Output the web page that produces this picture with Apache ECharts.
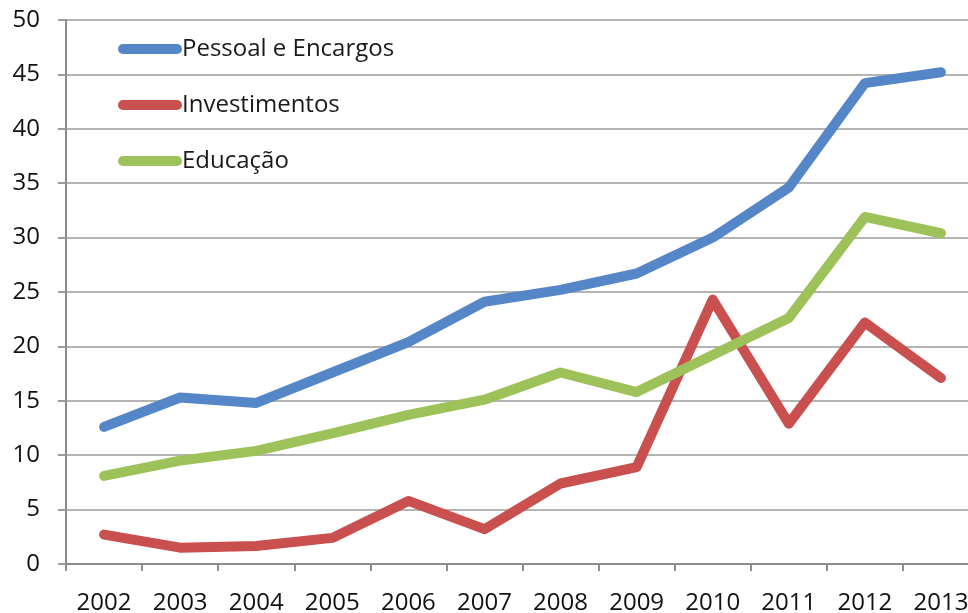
<!DOCTYPE html>
<html>
<head>
<meta charset="utf-8">
<script src="https://cdn.jsdelivr.net/npm/echarts@6/dist/echarts.min.js"></script>
<style>
  html, body { margin: 0; padding: 0; background: #fff; overflow: hidden; }
  #chart { width: 968px; height: 613px; }
</style>
</head>
<body>
<div id="chart"></div>
<script>
// Anos e séries (valores em bilhões)
const years = ['2002', '2003', '2004', '2005', '2006', '2007', '2008', '2009', '2010', '2011', '2012', '2013'];
const pessoal = [12.6, 15.3, 14.8, 17.6, 20.4, 24.1, 25.2, 26.7, 30.0, 34.6, 44.2, 45.2];
const investimentos = [2.7, 1.5, 1.65, 2.4, 5.8, 3.2, 7.4, 8.9, 24.3, 12.9, 22.2, 17.1];
const educacao = [8.1, 9.5, 10.4, 12.0, 13.7, 15.1, 17.6, 15.8, 19.2, 22.6, 31.9, 30.4];
const yTicks = { min: 0, max: 50, interval: 5 };

const FONT = 'Open Sans';
const capsule = 'path://M5,0 L59,0 A5,5 0 0 1 59,10 L5,10 A5,5 0 0 1 5,0 Z';

const chart = echarts.init(document.getElementById('chart'));

function lineSeries(name, data, color) {
  return {
    name, type: 'line', data,
    symbol: 'none',
    itemStyle: { color },
    lineStyle: { color, width: 10, cap: 'round', join: 'round' },
    emphasis: { disabled: true }
  };
}

chart.setOption({
  animation: false,
  textStyle: { fontFamily: FONT },
  // the plot runs a little past the right edge of the canvas
  grid: { left: 66, width: 913, top: 20, bottom: 49, containLabel: false, outerBoundsMode: 'none' },
  legend: {
    orient: 'vertical',
    left: 113, top: 32,
    itemWidth: 64, itemHeight: 10, itemGap: 32,
    icon: capsule,
    textStyle: { fontFamily: FONT, fontSize: 24, color: '#1a1a1a', padding: [0, 0, 0, -5] },
    data: ['Pessoal e Encargos', 'Investimentos', 'Educação']
  },
  xAxis: {
    type: 'category', data: years, boundaryGap: true,
    axisLine: { lineStyle: { color: '#8c8c8c', width: 2 } },
    axisTick: { show: true, length: 7, lineStyle: { color: '#8c8c8c', width: 2 } },
    axisLabel: { fontSize: 24, color: '#111', margin: 27, fontFamily: FONT },
    splitLine: { show: false }
  },
  yAxis: {
    type: 'value', min: yTicks.min, max: yTicks.max, interval: yTicks.interval,
    axisLine: { show: true, lineStyle: { color: '#8c8c8c', width: 2 } },
    axisTick: { show: true, length: 8, lineStyle: { color: '#9a9a9a', width: 2 } },
    axisLabel: { fontSize: 24, color: '#111', margin: 26, fontFamily: FONT, padding: [4, 0, 0, 0] },
    splitLine: { lineStyle: { color: '#b4b4b4', width: 2 } }
  },
  series: [
    lineSeries('Pessoal e Encargos', pessoal, '#5586c8'),
    lineSeries('Investimentos', investimentos, '#c9504f'),
    lineSeries('Educação', educacao, '#9dc25a')
  ]
});
</script>
</body>
</html>
